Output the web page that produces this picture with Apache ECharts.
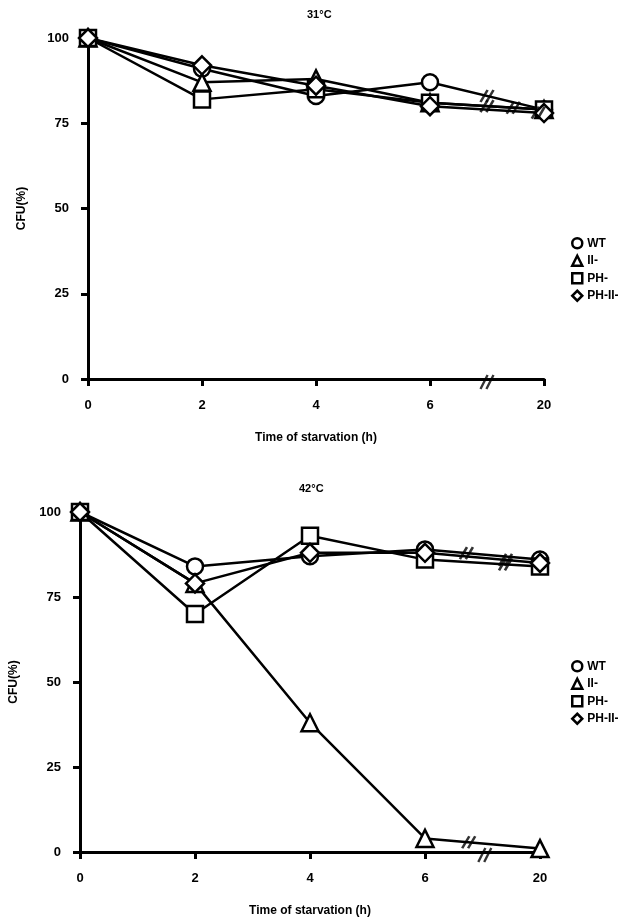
<!DOCTYPE html>
<html><head><meta charset="utf-8">
<script src="https://cdn.jsdelivr.net/npm/echarts@6/dist/echarts.min.js"></script>
<style>html,body{margin:0;padding:0;background:#fff}#c{width:643px;height:921px}</style>
</head><body><div id="c"></div>
<script>
// ---- data ----
const xLabels = ['0', '2', '4', '6', '20'];
const seriesNames = ['WT', 'II-', 'PH-', 'PH-II-'];
const seriesSymbols = ['circle', 'triangle', 'rect', 'diamond'];
const titles = ['31°C', '42°C'];
// 31°C
const wt31 = [100, 91, 83, 87, 79];
const ii31 = [100, 87, 88, 81, 79];
const ph31 = [100, 82, 85, 81, 79];
const phii31 = [100, 92, 86, 80, 78];
// 42°C
const wt42 = [100, 84, 87, 89, 86];
const ii42 = [100, 79, 38, 4, 1];
const ph42 = [100, 70, 93, 86, 84];
const phii42 = [100, 79, 88, 88, 85];
// break positions (fraction between 6 h and 20 h) per series
const breaks31 = [0.5, 0.5, 0.73, 0.95];
const breaks42 = [0.36, 0.38, 0.7, 0.7];
const axisBreak31 = 0.5;
const axisBreak42 = 0.52;

const data31 = [wt31, ii31, ph31, phii31];
const data42 = [wt42, ii42, ph42, phii42];

const FONT = 'Liberation Sans, Arial, sans-serif';
const breakPath = 'path://M0,10 L6,0 M5,10 L11,0';

const grids = [
  { left: 88, top: 38, width: 456, height: 341 },
  { left: 80, top: 512, width: 460, height: 340 }
];

function xAxis(gi) {
  return {
    type: 'value', gridIndex: gi, min: 0, max: 4, interval: 1,
    name: 'Time of starvation (h)', nameLocation: 'middle', nameGap: 53,
    nameTextStyle: { fontFamily: FONT, fontWeight: 'bold', fontSize: 12, color: '#000' },
    axisLine: { lineStyle: { color: '#000', width: 3 } },
    axisTick: { length: 7, lineStyle: { color: '#000', width: 3 } },
    axisLabel: { fontFamily: FONT, fontWeight: 'bold', fontSize: 13, color: '#000', margin: 20,
      formatter: v => xLabels[v] },
    splitLine: { show: false }
  };
}
function yAxis(gi) {
  return {
    type: 'value', gridIndex: gi, min: 0, max: 100, interval: 25,
    name: 'CFU(%)', nameLocation: 'middle', nameGap: 60, nameRotate: 90,
    nameTextStyle: { fontFamily: FONT, fontWeight: 'bold', fontSize: 12, color: '#000' },
    axisLine: { onZero: false, lineStyle: { color: '#000', width: 3 } },
    axisTick: { length: 7, lineStyle: { color: '#000', width: 3 } },
    axisLabel: { fontFamily: FONT, fontWeight: 'bold', fontSize: 13, color: '#000', margin: 19 },
    splitLine: { show: false }
  };
}

const series = [];
[data31, data42].forEach((set, gi) => {
  set.forEach((vals, si) => {
    series.push({
      name: seriesNames[si], type: 'line', xAxisIndex: gi, yAxisIndex: gi,
      data: vals.map((v, i) => [i, v]),
      symbol: seriesSymbols[si],
      symbolSize: si === 1 ? 17 : (si === 3 ? 18 : 16),
      lineStyle: { color: '#000', width: 2.5 },
      itemStyle: { color: '#fff', borderColor: '#000', borderWidth: 2.5 },
      z: 3 + si, clip: false, animation: false
    });
  });
  // break marks on lines
  const brs = gi === 0 ? breaks31 : breaks42;
  series.push({
    type: 'scatter', xAxisIndex: gi, yAxisIndex: gi, silent: true, clip: false,
    symbol: breakPath, symbolSize: [13, 12],
    itemStyle: { color: 'rgba(0,0,0,0)', borderColor: '#000', borderWidth: 2.5 },
    data: set.map((vals, si) => [3 + brs[si], vals[3] + (vals[4] - vals[3]) * brs[si]]),
    z: 10, animation: false
  });
  // break mark on x axis
  series.push({
    type: 'scatter', xAxisIndex: gi, yAxisIndex: gi, silent: true, clip: false,
    symbol: breakPath, symbolSize: [13, 14], symbolOffset: [0, 3],
    itemStyle: { color: 'rgba(0,0,0,0)', borderColor: '#000', borderWidth: 2.5 },
    data: [[3 + (gi === 0 ? axisBreak31 : axisBreak42), 0]],
    z: 10, animation: false
  });
});

const legendBase = {
  orient: 'vertical', itemWidth: 10, itemHeight: 10, itemGap: 5,
  textStyle: { fontFamily: FONT, fontWeight: 'bold', fontSize: 12, color: '#000' },
  itemStyle: { color: '#fff', borderColor: '#000', borderWidth: 2.5 },
  data: seriesNames.map((n, i) => ({ name: n, icon: seriesSymbols[i] }))
};

const option = {
  backgroundColor: '#fff',
  animation: false,
  title: [
    { text: titles[0], left: 302, top: 4, textStyle: { fontFamily: FONT, fontWeight: 'bold', fontSize: 11, color: '#000' } },
    { text: titles[1], left: 294, top: 478, textStyle: { fontFamily: FONT, fontWeight: 'bold', fontSize: 11, color: '#000' } }
  ],
  legend: [
    Object.assign({}, legendBase, { left: 566, top: 232 }),
    Object.assign({}, legendBase, { left: 566, top: 655 })
  ],
  grid: grids,
  xAxis: [xAxis(0), xAxis(1)],
  yAxis: [yAxis(0), yAxis(1)],
  series: series
};

const chart = echarts.init(document.getElementById('c'), null, { renderer: 'canvas' });
chart.setOption(option);
</script>
</body></html>
